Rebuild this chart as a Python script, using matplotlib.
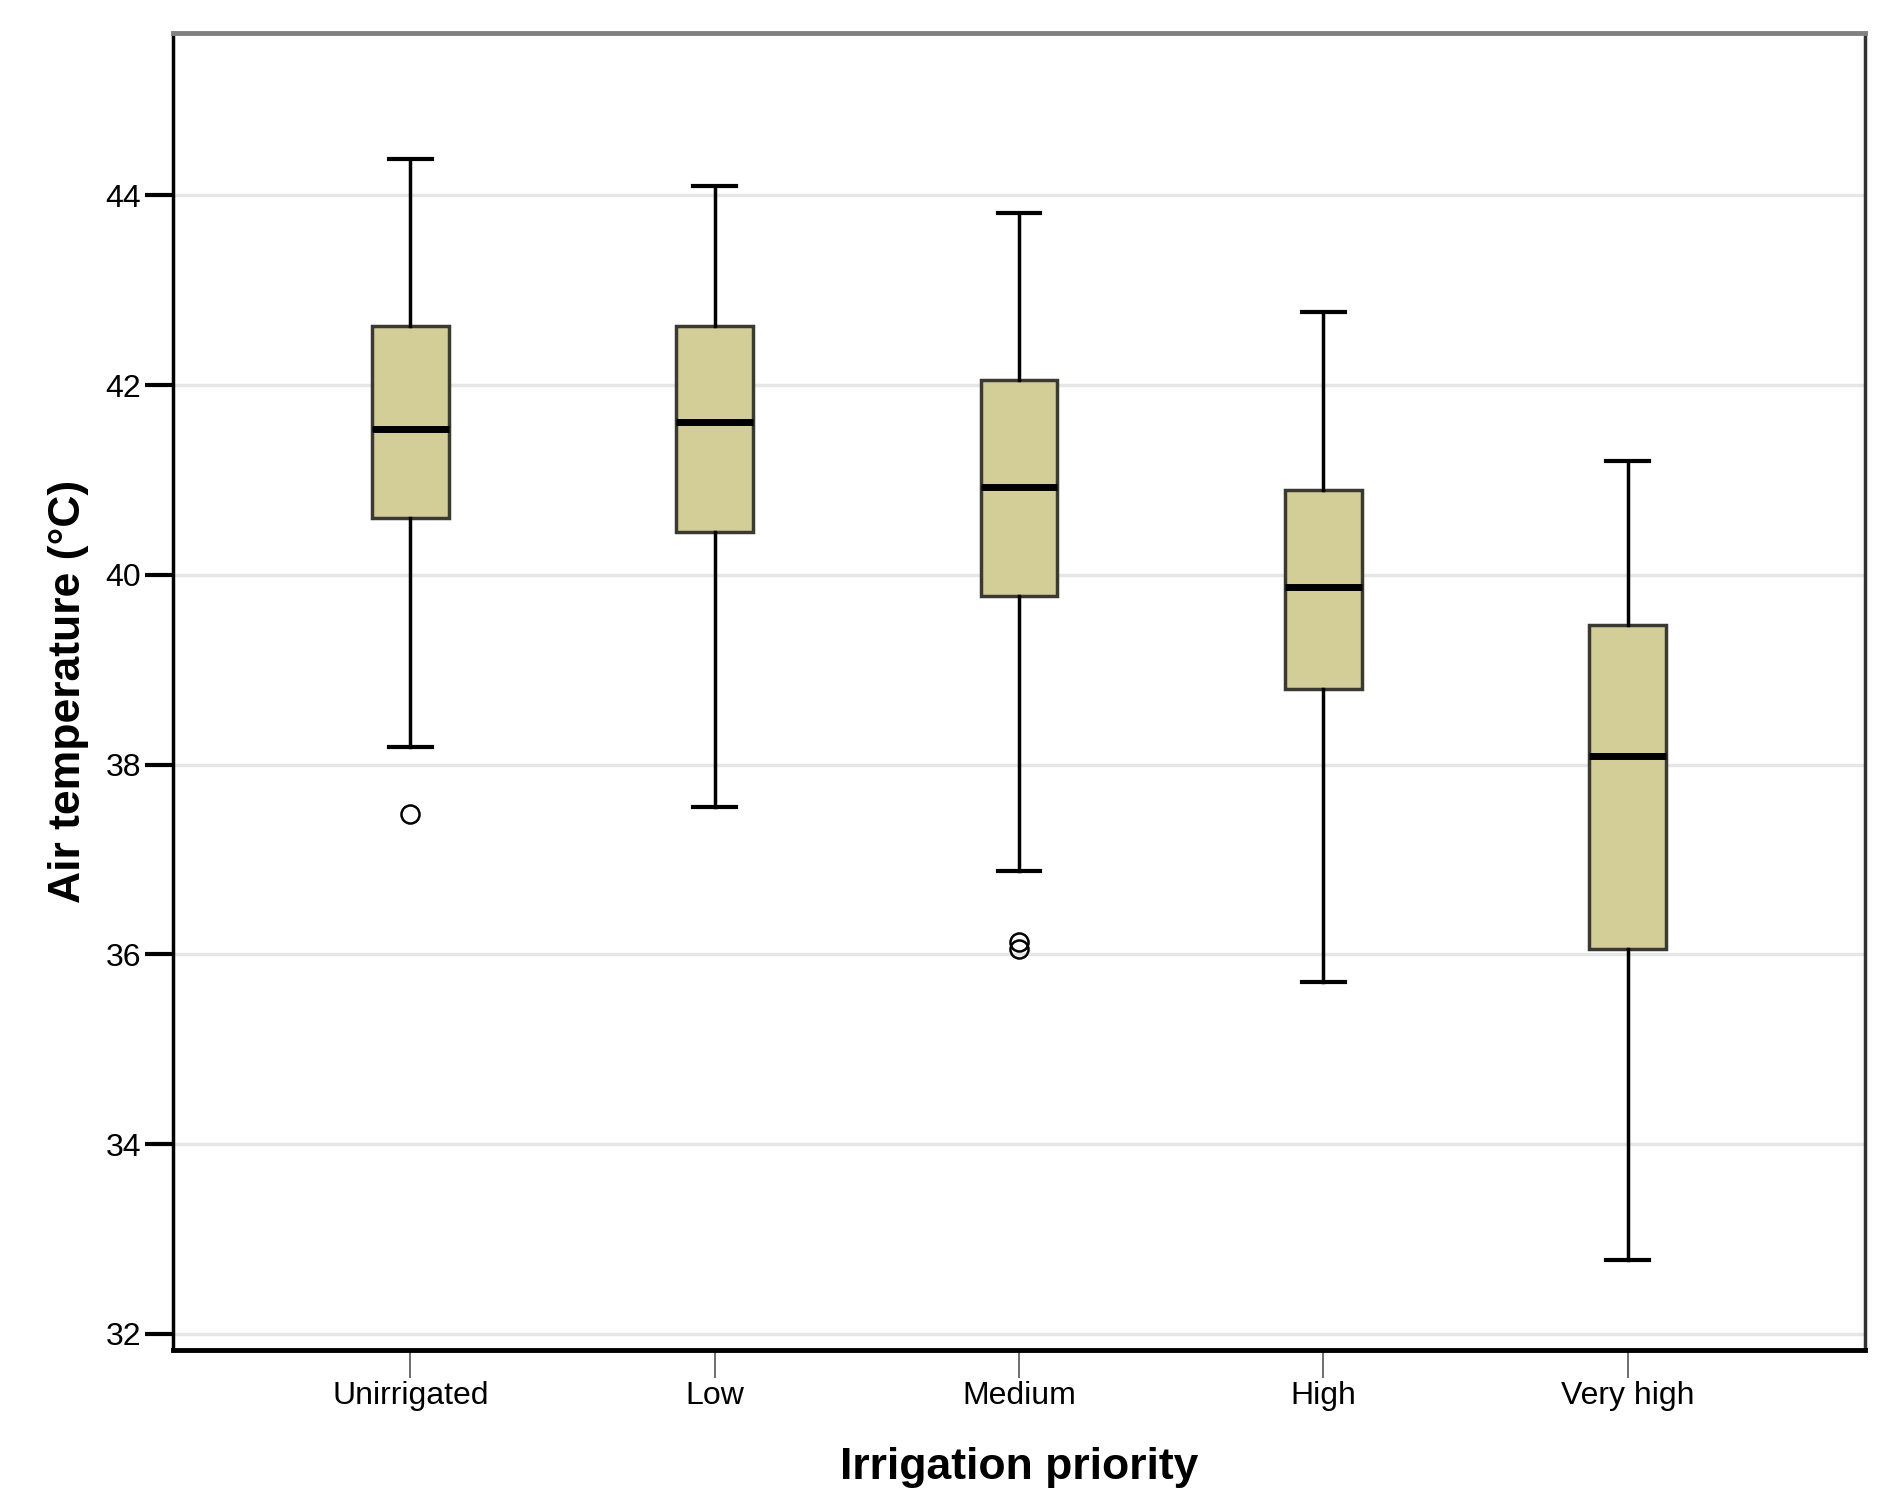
import matplotlib
matplotlib.use("Agg")
import matplotlib.pyplot as plt

plt.rcParams['font.family'] = ['Liberation Sans', 'DejaVu Sans']

categories = ["Unirrigated", "Low", "Medium", "High", "Very high"]
whisker_hi = [44.38, 44.10, 43.81, 42.77, 41.20]
q3 = [42.62, 42.62, 42.05, 40.89, 39.47]
medians = [41.54, 41.61, 40.93, 39.87, 38.09]
q1 = [40.60, 40.45, 39.78, 38.80, 36.06]
whisker_lo = [38.19, 37.55, 36.88, 35.71, 32.78]
outliers = [[37.48], [], [36.13, 36.06], [], []]

stats = []
for i, name in enumerate(categories):
    stats.append(dict(label=name, med=medians[i], q1=q1[i], q3=q3[i],
                      whislo=whisker_lo[i], whishi=whisker_hi[i],
                      fliers=outliers[i]))

fig = plt.figure(figsize=(18.79, 14.90), dpi=100)
ax = fig.add_axes([173 / 1879, 1 - 1350 / 1490, (1865 - 173) / 1879, (1350 - 33) / 1490])

pos = list(range(1, len(categories) + 1))
ax.bxp(stats, positions=pos, widths=0.252, patch_artist=True,
       boxprops=dict(facecolor="#d3ce98", edgecolor="#3a3a32", linewidth=2.5),
       medianprops=dict(color="black", linewidth=5),
       whiskerprops=dict(color="black", linewidth=2.5),
       capprops=dict(color="black", linewidth=3),
       capwidths=0.14,
       flierprops=dict(marker="o", markerfacecolor="none", markeredgecolor="black",
                       markersize=13, markeredgewidth=1.8),
       zorder=3)

ax.set_xlim(0.22, 5.78)
ax.set_ylim(31.83, 45.71)
ax.set_yticks([32, 34, 36, 38, 40, 42, 44])
ax.yaxis.grid(True, color="#e6e6e6", linewidth=2.5, zorder=0)
ax.set_axisbelow(True)

ax.tick_params(axis="y", direction="out", length=20, width=3, labelsize=23, pad=3)
ax.tick_params(axis="x", direction="out", length=20, width=1.2, color="#555555",
               labelsize=23, pad=2)

ax.spines["left"].set_linewidth(2.5)
ax.spines["bottom"].set_linewidth(3.5)
ax.spines["top"].set_linewidth(3.5)
ax.spines["top"].set_color("#808080")
ax.spines["right"].set_linewidth(2.5)
ax.spines["right"].set_color("#333333")

ax.set_xlabel("Irrigation priority", fontsize=32, fontweight="bold", labelpad=26)
ax.set_ylabel("Air temperature (°C)", fontsize=32, fontweight="bold", labelpad=12)

fig.savefig("out.png", dpi=100)
